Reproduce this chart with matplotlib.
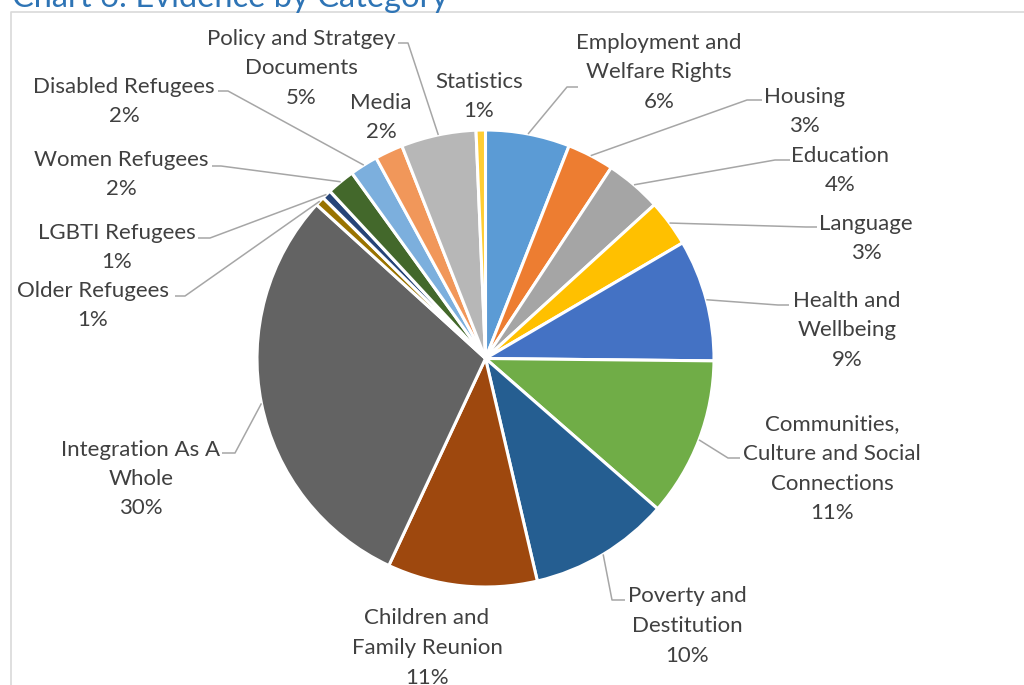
import matplotlib
matplotlib.use("Agg")
import numpy as np
import matplotlib.pyplot as plt
from matplotlib.lines import Line2D

# evidence items per category, clockwise from 12 o'clock
categories = [
    "Employment and\nWelfare Rights", "Housing", "Education", "Language",
    "Health and\nWellbeing", "Communities,\nCulture and Social\nConnections",
    "Poverty and\nDestitution", "Children and\nFamily Reunion",
    "Integration As A\nWhole", "Older Refugees", "LGBTI Refugees",
    "Women Refugees", "Disabled Refugees", "Media",
    "Policy and Stratgey\nDocuments", "Statistics",
]
counts = [9, 5, 6, 5, 13, 17, 15, 16, 45, 1, 1, 3, 3, 3, 8, 1]
colors = [
    "#5B9BD5", "#ED7D31", "#A5A5A5", "#FFC000", "#4472C4", "#70AD47",
    "#255E91", "#9E480E", "#636363", "#997300", "#264478", "#43682B",
    "#7CAFDD", "#F1975A", "#B7B7B7", "#FFCD33",
]

# label placement in pixels: first-line centre and leader elbow/end (or None)
label_xy = [
    (659, 41, [(567, 87), (578, 87)]),
    (804, 95, [(747, 100), (762, 100)]),
    (840, 154, [(775, 160), (790, 160)]),
    (866, 222, [(806, 227), (817, 227)]),
    (847, 299, [(778, 305), (789, 305)]),
    (832, 423, [(728, 458), (740, 458)]),
    (687, 595, [(612, 600), (625, 600)]),
    (427, 617, None),
    (141, 448, [(235, 453), (222, 453)]),
    (93, 289, [(185, 296), (175, 296)]),
    (117, 231, [(210, 238), (198, 238)]),
    (121, 158, [(221, 166), (212, 166)]),
    (124, 85, [(228, 91), (218, 91)]),
    (381, 101, None),
    (301, 37, [(408, 43), (398, 43)]),
    (479, 80, None),
]

W, H = 1024, 685
cx, cy, R = 485.5, 358.5, 228.5
LINE = 29.5
TXT = "#404040"
FONT = "Lato"

fig = plt.figure(figsize=(W / 100, H / 100), dpi=100)
ax = fig.add_axes([0, 0, 1, 1])

wedges, _ = ax.pie(counts, colors=colors, startangle=90, counterclock=False,
                   radius=R, center=(cx, H - cy),
                   wedgeprops=dict(edgecolor="white", linewidth=2.2))
ax.set_xlim(0, W)
ax.set_ylim(0, H)
ax.axis("off")

total = sum(counts)
for w, name, n, (lx, ly, leader) in zip(wedges, categories, counts, label_xy):
    lines = name.split("\n") + [f"{round(n / total * 100)}%"]
    for i, s in enumerate(lines):
        ax.text(lx, H - (ly + i * LINE + 7.5), s, ha="center", va="baseline",
                fontsize=16, color=TXT, family=FONT)
    if leader:
        mid = np.deg2rad((w.theta1 + w.theta2) / 2)
        px = cx + R * np.cos(mid)
        py = (H - cy) + R * np.sin(mid)
        xs = [px] + [p[0] for p in leader]
        ys = [py] + [H - p[1] for p in leader]
        ax.plot(xs, ys, color="#A6A6A6", lw=1.1, solid_capstyle="butt")

# chart frame (runs off the right and bottom edges)
fig.add_artist(Line2D([10.5 / W, 10.5 / W, 1], [0, 1 - 11.5 / H, 1 - 11.5 / H],
                      transform=fig.transFigure, color="#D9D9D9", lw=1.2))

fig.text(12 / W, 1 - 7 / H, "Chart 6: Evidence by Category", ha="left",
         va="baseline", fontsize=23.5, color="#2E74B5", family=FONT)

fig.savefig("out.png", dpi=100)
